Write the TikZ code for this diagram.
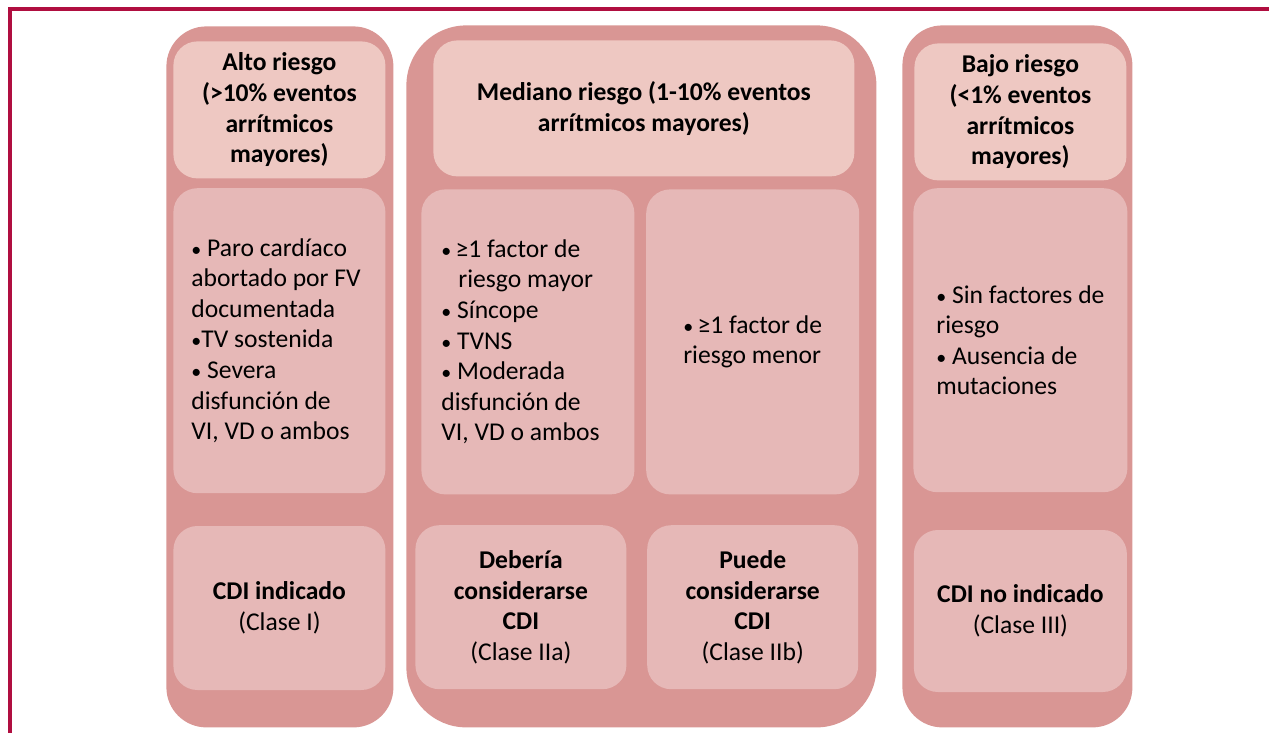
\documentclass[tikz,border=0pt]{standalone}
\usepackage{fontspec}
\setmainfont{Carlito}
\usetikzlibrary{positioning}
\definecolor{riskouter}{HTML}{D99694}
\definecolor{riskhead}{HTML}{EEC8C2}
\definecolor{riskbody}{HTML}{E6B8B7}
\definecolor{framered}{HTML}{B00E40}
\newcommand{\bul}{{\fontsize{10}{10}\selectfont•}}
\tikzstyle{column}=[fill=riskouter, anchor=north west, inner sep=0pt]
\tikzstyle{riskbox}=[rounded corners=12pt, inner sep=2pt, font=\fontsize{12.8}{15.3}\selectfont]
\tikzstyle{head}=[riskbox, fill=riskhead, anchor=north west, align=center, font=\fontsize{12.8}{15.3}\selectfont\bfseries]
\tikzstyle{body}=[riskbox, fill=riskbody, align=flush left]
\tikzstyle{verdict}=[riskbox, fill=riskbody, align=center]

\begin{document}
\begin{tikzpicture}[x=0.5pt, y=-0.5pt]
  \useasboundingbox (0,0) rectangle (1269,733);
  \draw[framered, line width=1.6pt] (10,733) |- (1269,9);

  % columns
  \node[column, rounded corners=20pt, minimum width=113.5pt, minimum height=350.5pt] (colAlto) at (166,26) {};
  \node[column, rounded corners=30pt, minimum width=235pt, minimum height=351pt] (colMedio) at (406,25) {};
  \node[column, rounded corners=20pt, minimum width=115pt, minimum height=351pt] (colBajo) at (902,25) {};

  % alto riesgo
  \node[head, minimum width=106pt, minimum height=68.5pt] (altoHead) at (173,41) {Alto riesgo\\(>10\% eventos\\arrítmicos\\mayores)};
  \node[body, inner xsep=9pt, text width=88pt, minimum height=152.5pt] (altoFact) [below=4.5pt of altoHead]
    {\bul\ Paro cardíaco\\abortado por FV\\documentada\\\bul TV sostenida\\\bul\ Severa\\disfunción de\\VI, VD o ambos};
  \node[verdict, minimum width=106pt, minimum height=82pt] (altoCDI) [below=16pt of altoFact]
    {\textbf{CDI indicado}\\(Clase I)};

  % mediano riesgo
  \node[head, minimum width=210.5pt, minimum height=68pt] (medHead) at (433,40) {Mediano riesgo (1-10\% eventos\\arrítmicos mayores)};
  \node[body, anchor=north west, inner xsep=10pt, text width=86.5pt, minimum height=152.5pt] (medMayor) at (421,189)
    {\bul\,≥1 factor de\\\hspace*{8.5pt}riesgo mayor\\\bul\ Síncope\\\bul\ TVNS\\\bul\ Moderada\\disfunción de\\VI, VD o ambos};
  \node[body, minimum width=106.5pt, minimum height=152.5pt] (medMenor) [right=5.5pt of medMayor]
    {\bul\,≥1 factor de\\riesgo menor};
  \node[verdict, minimum width=105.5pt, minimum height=82pt] (medIIa) [below=15pt of medMayor, xshift=-3.5pt]
    {\textbf{Debería}\\\textbf{considerarse}\\\textbf{CDI}\\(Clase IIa)};
  \node[verdict, minimum width=105.5pt, minimum height=82pt] (medIIb) [below=15pt of medMenor]
    {\textbf{Puede}\\\textbf{considerarse}\\\textbf{CDI}\\(Clase IIb)};

  % bajo riesgo
  \node[head, minimum width=106pt, minimum height=68.5pt] (bajoHead) at (914,43) {Bajo riesgo\\(<1\% eventos\\arrítmicos\\mayores)};
  \node[body, minimum width=107pt, minimum height=152pt] (bajoFact) [below=3.5pt of bajoHead]
    {\bul\ Sin factores de\\riesgo\\\bul\ Ausencia de\\mutaciones};
  \node[verdict, minimum width=106.5pt, minimum height=81pt] (bajoCDI) [below=18.5pt of bajoFact]
    {\textbf{CDI no indicado}\\(Clase III)};
\end{tikzpicture}
\end{document}
